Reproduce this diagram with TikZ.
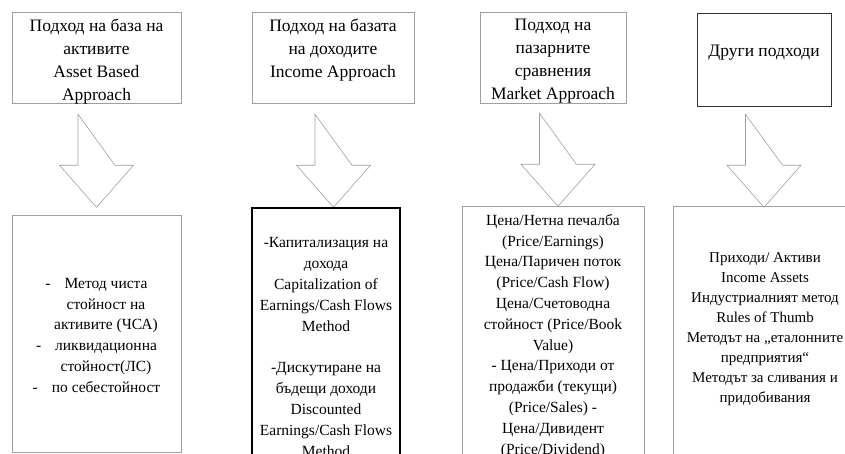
\documentclass[tikz,border=0pt]{standalone}
\usepackage{fontspec}
\setmainfont{Liberation Serif}

\begin{document}
\begin{tikzpicture}[
    x=1pt, y=1pt,
    apprbox/.style={
        draw=gray!75, line width=0.6pt,
        inner sep=0pt,
    },
    methbox/.style={
        draw=gray!75, line width=0.6pt,
        inner sep=0pt,
    },
    apprtext/.style={
        font=\fontsize{17.5}{23}\selectfont,
        align=center, inner sep=0pt, anchor=north,
    },
    methtext/.style={
        font=\fontsize{15.5}{20.8}\selectfont,
        align=center, inner sep=0pt, anchor=north,
    },
    blockarrow/.style={
        draw=gray!75, line width=0.6pt, fill=white,
    },
]

\useasboundingbox (0,0) rectangle (845,454);
\clip (0,0) rectangle (845,454);

% ── Approaches (top row) ────────────────────────────────────
\node[apprbox, minimum width=169pt, minimum height=91pt] (appr1) at (96.5,396.5) {};
\node[apprbox, minimum width=162pt, minimum height=91pt] (appr2) at (333,396.5) {};
\node[apprbox, minimum width=146pt, minimum height=91pt] (appr3) at (553,396.5) {};
\node[apprbox, draw=black!80, minimum width=134pt, minimum height=93pt] (appr4) at (764,394.5) {};

\node[apprtext] (appr1txt) at (96.5,435) {Подход на база на\\активите\\Asset Based\\Approach};
\node[apprtext] (appr2txt) at (333,435) {Подход на базата\\на доходите\\Income Approach};
\node[apprtext] (appr3txt) at (553,435) {Подход на\\пазарните\\сравнения\\Market Approach};
\node[apprtext] (appr4txt) at (764,409) {Други подходи};

% ── Block arrows ────────────────────────────────────────────
\foreach \i/\dx/\dy in {1/-18.5/-11, 2/-18/-11, 3/-13.5/-10, 4/-18.5/-8} {
    \draw[blockarrow] ([xshift=\dx, yshift=\dy]appr\i.south)
        -- ++(0,-51) -- ++(-18.5,0) -- ++(37,-42)
        -- ++(37,42) -- ++(-18.5,0) -- cycle;
}

% ── Methods (bottom row) ────────────────────────────────────
\node[methbox, minimum width=169pt, minimum height=237pt] (meth1) at (96.5,120.5) {};
\node[methbox, draw=black, line width=1.1pt, minimum width=148pt, minimum height=256pt] (meth2) at (326,118) {};
\node[methbox, minimum width=182pt, minimum height=258pt] (meth3) at (553,119) {};
\node[methbox, minimum width=187pt, minimum height=258pt] (meth4) at (766.5,119) {};

\def\hang{\hspace*{19pt}}
\node[methtext] (meth1txt) at (96.5,176) {%
    -\hspace{14pt}Метод чиста\\\hang стойност на\\\hang активите (ЧСА)\\
    -\hspace{14pt}ликвидационна\\\hang стойност(ЛС)\\
    -\hspace{14pt}по себестойност};
\node[methtext, font=\fontsize{15.5}{21}\selectfont] (meth2txt) at (326,217) {%
    -Капитализация на\\дохода\\Capitalization of\\Earnings/Cash Flows\\Method\\[20pt]
    -Дискутиране на\\бъдещи доходи\\Discounted\\Earnings/Cash Flows\\Method};
\node[methtext] (meth3txt) at (553,240) {%
    Цена/Нетна печалба\\(Price/Earnings)\\Цена/Паричен поток\\(Price/Cash Flow)\\
    Цена/Счетоводна\\стойност (Price/Book\\Value)\\- Цена/Приходи от\\
    продажби (текущи)\\(Price/Sales) -\\Цена/Дивидент\\(Price/Dividend)};
\node[methtext, font=\fontsize{15}{20.1}\selectfont] (meth4txt) at (765,202) {%
    Приходи/ Активи\\Income Assets\\Индустриалният метод\\Rules of Thumb\\
    Методът на „еталонните\\предприятия“\\Методът за сливания и\\придобивания};

\end{tikzpicture}
\end{document}
